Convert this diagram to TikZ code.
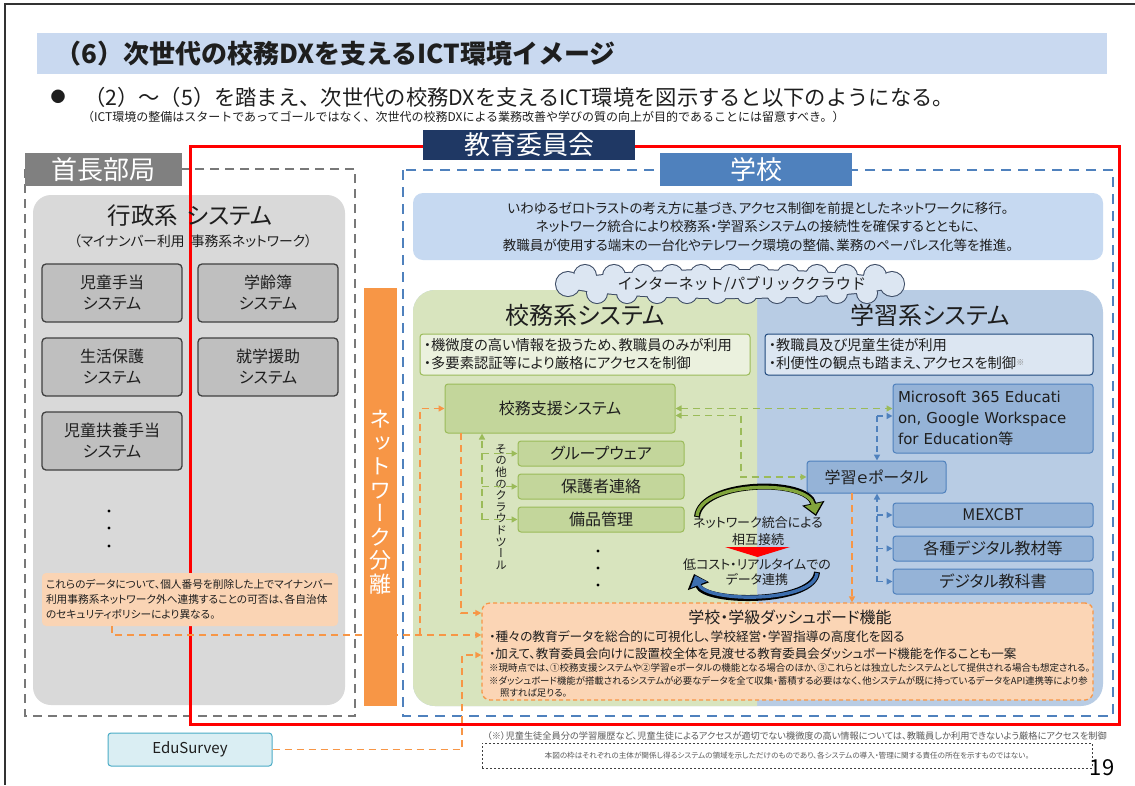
\documentclass[tikz,border=0pt]{standalone}
\usepackage{fontspec}
\setmainfont[RawFeature=+palt]{Noto Sans CJK JP}
\newfontfamily\npj{Noto Sans CJK JP}
\newfontfamily\vjp[RawFeature=+vert]{Noto Sans CJK JP}
\newfontfamily\dvs{DejaVu Sans}
\usetikzlibrary{arrows.meta,calc}
\newcommand\fsz[2]{\fontsize{#1}{#2}\selectfont}
\definecolor{cTitle}{RGB}{201,217,240}
\definecolor{cNavy}{RGB}{31,56,100}
\definecolor{cSchool}{RGB}{79,129,189}
\definecolor{cLblGray}{RGB}{128,128,128}
\definecolor{cFrameGray}{RGB}{120,120,120}
\definecolor{cPanelGray}{RGB}{217,217,217}
\definecolor{cBoxGray}{RGB}{191,191,191}
\definecolor{cBoxBorder}{RGB}{64,64,64}
\definecolor{cOrange}{RGB}{247,150,70}
\definecolor{cNote}{RGB}{250,212,180}
\definecolor{cInfo}{RGB}{198,217,241}
\definecolor{cGreenPanel}{RGB}{216,228,190}
\definecolor{cBluePanel}{RGB}{184,204,228}
\definecolor{cGreenBox}{RGB}{195,214,155}
\definecolor{cGreenLine}{RGB}{155,187,89}
\definecolor{cGreenNote}{RGB}{235,241,222}
\definecolor{cBlueBox}{RGB}{149,179,215}
\definecolor{cBlueNote}{RGB}{220,230,242}
\definecolor{cBlueBorder}{RGB}{31,73,125}
\definecolor{cDash}{RGB}{251,213,181}
\definecolor{cEdu}{RGB}{218,238,243}
\definecolor{cEduB}{RGB}{75,172,198}
\definecolor{cTxt}{RGB}{30,30,30}
\definecolor{cArcG}{RGB}{130,165,60}
\definecolor{cArcB}{RGB}{60,110,175}
\definecolor{cCloud}{RGB}{220,230,242}
\definecolor{cCloudLine}{RGB}{60,75,100}
\definecolor{cFoot}{RGB}{90,90,90}
\tikzset{
  grayboxst/.style={draw=cBoxBorder, line width=1.3pt, fill=cBoxGray, rounded corners=4pt, minimum width=140pt, minimum height=58pt, align=center, font=\fsz{16}{21}},
  gboxst/.style={draw=cGreenLine, line width=1pt, fill=cGreenBox, rounded corners=3pt, align=center},
  bboxst/.style={draw=cSchool, line width=1pt, fill=cBlueBox, rounded corners=3pt, align=center},
  lblst/.style={minimum height=33pt, text=white, font=\npj\fsz{26}{28}},
  odash/.style={draw=cOrange, line width=1.8pt, dash pattern=on 7pt off 5pt},
  oarrow/.style={odash, -{Triangle[length=6pt,width=6pt]}},
  gdash/.style={draw=cGreenLine, line width=1.7pt, dash pattern=on 7pt off 5pt},
  garrow/.style={gdash, -{Triangle[length=6pt,width=6pt]}},
  gboth/.style={gdash, {Triangle[length=6pt,width=6pt]}-{Triangle[length=6pt,width=6pt]}},
  bdash/.style={draw=cSchool, line width=1.5pt, dash pattern=on 6pt off 4pt},
  barrow/.style={bdash, -{Triangle[length=6pt,width=6pt]}},
  cloudline/.style={draw=cCloudLine, line width=2pt},
}
\begin{document}
\begin{tikzpicture}[x=1pt,y=-1pt, every node/.style={inner sep=0pt, text=cTxt}]
\useasboundingbox (0,0) rectangle (1135,785);
\fill[white] (0,0) rectangle (1135,785);
\draw[line width=2pt, black!80] (1135,4) -- (5,4) -- (5,785);

% title
\node[fill=cTitle, minimum width=1070pt, minimum height=41pt] (titlebar) at (572,53.5) {};
\node[anchor=west, font=\npj\bfseries\fsz{26}{28}] (title) at (55,54) {（6）次世代の校務DXを支えるICT環境イメージ};
\node[font=\npj\fsz{15}{16}] (bullet) at (58,97) {●};
\node[anchor=west, font=\npj\fsz{21.3}{24}] (sub) at (84,97) {（2）～（5）を踏まえ、次世代の校務DXを支えるICT環境を図示すると以下のようになる。};
\node[anchor=west, font=\npj\fsz{12}{13}] (subnote) at (82,117) {（ICT環境の整備はスタートであってゴールではなく、次世代の校務DXによる業務改善や学びの質の向上が目的であることには留意すべき。）};

% left side
\fill[cPanelGray, rounded corners=18pt] (33,195) rectangle (345,705);
\draw[cFrameGray, line width=2.5pt, dash pattern=on 9pt off 6pt] (25,169) rectangle (355,716);
\draw[red, line width=3pt] (190,146) rectangle (1119,724);
\node[fill=cLblGray, lblst, minimum width=157pt] (shucho) at (103.5,169.5) {首長部局};
\node[fill=cNavy, lblst, minimum height=30pt, minimum width=212pt] (boe) at (529,145) {教育委員会};

\node[font=\fsz{23.5}{26}] (gyosei) at (190,216) {行政系\hspace{8pt}システム};
\node[font=\fsz{13.8}{15}] (gyoseisub) at (193,241) {（マイナンバー利用\hspace{6pt}事務系ネットワーク）};
\node[grayboxst] (b1) at (112,293) {児童手当\\システム};
\node[grayboxst] (b2) at (268,293) {学齢簿\\システム};
\node[grayboxst] (b3) at (112,367) {生活保護\\システム};
\node[grayboxst] (b4) at (268,367) {就学援助\\システム};
\node[grayboxst] (b5) at (112,441) {児童扶養手当\\システム};
\foreach \yy in {511,528,546} \fill[black] (109,\yy) circle (1.6pt);
\node[fill=cNote, rounded corners=4pt, minimum width=296pt, minimum height=53pt, text width=288pt, align=left, font=\fsz{10.7}{15}] (note) at (190,599.5) {これらのデータについて、個人番号を削除した上でマイナンバー\\利用事務系ネットワーク外へ連携することの可否は、各自治体\\のセキュリティポリシーにより異なる。};

% network separation
\node[fill=cOrange, minimum width=33pt, minimum height=418pt] (netsep) at (380.5,497) {};
\node[font=\vjp\fsz{22}{23.5}, text=white, align=center] (netseptxt) at (380.5,502) {ネ\\ッ\\ト\\ワ\\ー\\ク\\分\\離};

% school
\draw[cSchool, line width=2.5pt, dash pattern=on 10pt off 7pt] (403,170) rectangle (1113,716);
\node[fill=cSchool, lblst, minimum width=192pt] (gakko) at (756,169.5) {学校};
\node[fill=cInfo, rounded corners=10pt, minimum width=690pt, minimum height=67pt, align=center, font=\fsz{13.5}{18.5}] (info) at (758,226.5) {いわゆるゼロトラストの考え方に基づき、アクセス制御を前提としたネットワークに移行。\\ネットワーク統合により校務系・学習系システムの接続性を確保するとともに、\\教職員が使用する端末の一台化やテレワーク環境の整備、業務のペーパレス化等を推進。};

\fill[cBluePanel, rounded corners=22pt] (413,290) rectangle (1103,706);
\begin{scope}
\clip (400,280) rectangle (757,720);
\fill[cGreenPanel, rounded corners=22pt] (413,290) rectangle (1103,706);
\end{scope}

% cloud (outline layer, then fill layer)
\foreach \cx in {585,614,...,875} \draw[cloudline] (\cx,276) circle (11pt);
\foreach \cx in {597,627,...,867} \draw[cloudline] (\cx,293) circle (10pt);
\draw[cloudline] (568,284) circle (12pt);
\draw[cloudline] (892,284) circle (12pt);
\draw[cloudline] (730,284) ellipse (165pt and 14pt);
\foreach \cx in {585,614,...,875} \fill[cCloud] (\cx,276) circle (11pt);
\foreach \cx in {597,627,...,867} \fill[cCloud] (\cx,293) circle (10pt);
\fill[cCloud] (568,284) circle (12pt);
\fill[cCloud] (892,284) circle (12pt);
\fill[cCloud] (730,284) ellipse (165pt and 14pt);
\node[font=\npj\fsz{15.2}{18}] (cloudtxt) at (742,284) {インターネット/パブリッククラウド};

\node[font=\fsz{24}{26}] (komu) at (585,315) {校務系システム};
\node[font=\fsz{24}{26}] (gakushu) at (930,315) {学習系システム};
\node[fill=cGreenNote, draw=cGreenLine, line width=1pt, rounded corners=3pt, minimum width=330pt, minimum height=41pt, text width=322pt, align=left, font=\fsz{14.3}{18}] (gnote) at (585,354.5) {・機微度の高い情報を扱うため、教職員のみが利用\\・多要素認証等により厳格にアクセスを制御};
\node[fill=cBlueNote, draw=cBlueBorder, line width=1pt, rounded corners=3pt, minimum width=328pt, minimum height=41pt, text width=320pt, align=left, font=\fsz{14.3}{18}] (bnote) at (929,354.5) {・教職員及び児童生徒が利用\\・利便性の観点も踏まえ、アクセスを制御\raisebox{3pt}{\fsz{8}{8}\color{gray}※}};

\node[gboxst, minimum width=230pt, minimum height=49pt, font=\fsz{16}{18}] (kshien) at (560,408.5) {校務支援システム};
\node[gboxst, minimum width=166pt, minimum height=25pt, font=\fsz{16}{18}] (gw) at (601,453.5) {グループウェア};
\node[gboxst, minimum width=166pt, minimum height=25pt, font=\fsz{16}{18}] (hogo) at (601,486.5) {保護者連絡};
\node[gboxst, minimum width=166pt, minimum height=25pt, font=\fsz{16}{18}] (bihin) at (601,519.5) {備品管理};
\node[font=\vjp\fsz{11.5}{11.6}, align=center] (sonota) at (501,507) {そ\\の\\他\\の\\ク\\ラ\\ウ\\ド\\ツ\\ー\\ル};
\foreach \yy in {551,568,585} \fill[black] (598,\yy) circle (1.6pt);

\node[bboxst, minimum width=200pt, minimum height=69pt, font=\dvs\fsz{15}{21}, text width=190pt, align=left] (ms) at (993,418.5) {\makebox[190pt][s]{Microsoft 365 Educati}\\\makebox[190pt][s]{on, Google Workspace}\\for Education{\rmfamily 等}};
\node[bboxst, minimum width=139pt, minimum height=32pt, font=\fsz{16}{18}] (portal) at (876.5,477) {学習ｅポータル};
\node[bboxst, minimum width=200pt, minimum height=24pt, font=\fsz{16}{18}] (mex) at (993,515) {MEXCBT};
\node[bboxst, minimum width=200pt, minimum height=25pt, font=\fsz{16}{18}] (kakushu) at (993,548.5) {各種デジタル教材等};
\node[bboxst, minimum width=200pt, minimum height=25pt, font=\fsz{16}{18}] (dtext) at (993,581.5) {デジタル教科書};

% curved arrows
\draw[line width=6pt, black, -{Triangle[length=13pt,width=22pt]}] (697,517) .. controls (700,480) and (808,478) .. (816,516);
\draw[line width=3.4pt, cArcG, -{Triangle[length=10pt,width=17pt]}] (697,516) .. controls (700,481) and (808,479) .. (815.5,514);
\draw[line width=6pt, black, -{Triangle[length=13pt,width=22pt]}] (817,572) .. controls (815,604) and (705,604) .. (694,574);
\draw[line width=3.4pt, cArcB, -{Triangle[length=10pt,width=17pt]}] (817,573) .. controls (815,603) and (706,603) .. (695,575.5);
\fill[red] (725,547) -- (790,547) -- (757.5,557) -- cycle;
\node[font=\fsz{13}{17}, align=center] (togo) at (758,531) {ネットワーク統合による\\相互接続};
\node[font=\fsz{13}{15.5}, align=center] (renkei) at (757,572) {低コスト・リアルタイムでの\\データ連携};

% dashboard
\node[fill=cDash, draw=cOrange, line width=1.3pt, dash pattern=on 4pt off 3pt, rounded corners=8pt, minimum width=611pt, minimum height=97pt] (dashboard) at (787.5,651.5) {};
\node[font=\fsz{16}{18}] (dashtitle) at (790,617) {学校・学級ダッシュボード機能};
\node[anchor=west, font=\fsz{12.7}{14}] (d1) at (489,637) {・種々の教育データを総合的に可視化し、学校経営・学習指導の高度化を図る};
\node[anchor=west, font=\fsz{12.5}{14}] (d2) at (489,654) {・加えて、教育委員会向けに設置校全体を見渡せる教育委員会ダッシュボード機能を作ることも一案};
\node[anchor=west, font=\fsz{9.5}{11}] (d3) at (489,668) {※現時点では、①校務支援システムや②学習ｅポータルの機能となる場合のほか、③これらとは独立したシステムとして提供される場合も想定される。};
\node[anchor=west, font=\fsz{9.4}{11}] (d4) at (489,681) {※ダッシュボード機能が搭載されるシステムが必要なデータを全て収集・蓄積する必要はなく、他システムが既に持っているデータをAPI連携等により参};
\node[anchor=west, font=\fsz{9.4}{11}] (d5) at (500,693) {照すれば足りる。};

% EduSurvey & footnotes
\node[fill=cEdu, draw=cEduB, line width=1pt, rounded corners=3pt, minimum width=164pt, minimum height=33pt, font=\fsz{15}{18}] (edu) at (190,749.5) {EduSurvey};
\node[anchor=west, font=\fsz{9.2}{10}, text=cFoot] (foot) at (487,736) {（※）児童生徒全員分の学習履歴など、児童生徒によるアクセスが適切でない機微度の高い情報については、教職員しか利用できないよう厳格にアクセスを制御};
\node[draw=black!75, line width=1pt, dash pattern=on 2pt off 2pt, minimum width=610pt, minimum height=25pt, font=\fsz{7.6}{9}, text=cFoot] (waku) at (787,755.5) {本図の枠はそれぞれの主体が関係し得るシステムの領域を示しただけのものであり、各システムの導入・管理に関する責任の所在を示すものではない。};
\node[font=\npj\fsz{22}{24}, text=black] (pageno) at (1102,768) {19};

% connectors: orange
\coordinate (n1) at (112,626);
\coordinate (c420) at (420,635);
\coordinate (k461) at (461,433);
\coordinate (e462) at (462,655);
\coordinate (pb) at (852,493);
\draw[oarrow] (n1) |- ($(dashboard.west)+(0,-16.5)$);
\draw[oarrow] (c420) |- (kshien.west);
\draw[oarrow] (k461) |- ($(dashboard.west)+(0,-38.5)$);
\draw[oarrow] (edu.east) -| (e462) -- (e462 -| dashboard.west);
\draw[oarrow] (pb) -- (pb |- dashboard.north);
% green
\coordinate (k2) at ($(kshien.east)+(0,7)$);
\coordinate (g741) at (741,477);
\coordinate (x482) at (482,519.5);
\draw[gboth] (kshien.east) -- (kshien.east -| ms.west);
\draw[gboth] (k2) -| (g741) -- (portal.west);
\draw[garrow] (x482) -- (x482 |- kshien.south);
\draw[garrow] (x482 |- gw.west) -- (gw.west);
\draw[garrow] (x482 |- hogo.west) -- (hogo.west);
\draw[garrow] (x482) -- (bihin.west);
% blue
\coordinate (bp) at (877,416);
\coordinate (bq) at (877,581.5);
\draw[barrow] (bp) -- (bp -| ms.west);
\draw[barrow] (bp) -- (bp |- portal.north);
\draw[barrow] (bq) -- (bq |- portal.south);
\draw[barrow] (bq |- mex.west) -- (mex.west);
\draw[barrow] (bq |- kakushu.west) -- (kakushu.west);
\draw[barrow] (bq) -- (dtext.west);
\end{tikzpicture}
\end{document}
